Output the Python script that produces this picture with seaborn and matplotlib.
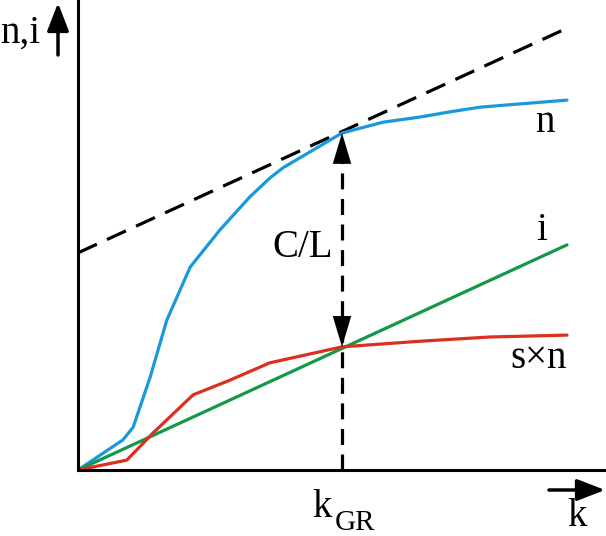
import numpy as np
import pandas as pd
import matplotlib
matplotlib.use("Agg")
import matplotlib.pyplot as plt
import seaborn as sns

# curves (k on x, n / i / s*n on y)
k_n = [0, 0.92, 1.13, 1.48, 1.82, 2.30, 2.91, 3.52, 3.93, 4.20, 5.41, 6.25, 7.01, 7.62, 8.24, 10.02]
n_vals = [0, 0.64, 0.91, 1.98, 3.19, 4.32, 5.11, 5.81, 6.21, 6.43, 7.17, 7.40, 7.51, 7.62, 7.72, 7.87]

k_sn = [0, 1.0, 1.54, 2.36, 3.11, 3.93, 5.41, 7.01, 8.44, 10.02]
sn_vals = [0, 0.21, 0.79, 1.60, 1.91, 2.28, 2.62, 2.74, 2.83, 2.87]

k_i = [0, 10.02]
i_vals = [0, 4.79]

k_tan = [0, 10.02]
tan_vals = [4.62, 9.40]

k_gr = 5.41
n_gr = 7.17
sn_gr = 2.62

blue = "#1a98dc"
green = "#13984a"
red = "#dc2f1e"

sns.set_style("white")
plt.rcParams["font.family"] = ["Liberation Serif", "DejaVu Serif"]
plt.rcParams["text.color"] = "black"

fig = plt.figure(figsize=(6.06, 5.36), dpi=100)
ax = fig.add_axes([78 / 606, 66 / 536, 528 / 606, 470 / 536])

sns.lineplot(x=k_tan, y=tan_vals, ax=ax, color="black", lw=2.3)
ax.lines[-1].set_dashes([6.5, 3.5])
sns.lineplot(x=k_n, y=n_vals, ax=ax, color=blue, lw=2.3)
sns.lineplot(x=k_i, y=i_vals, ax=ax, color=green, lw=2.3)
sns.lineplot(x=k_sn, y=sn_vals, ax=ax, color=red, lw=2.3)

# vertical dashed line at k_GR with arrowheads at both ends
ax.plot([k_gr, k_gr], [0, n_gr - 0.3], color="black", lw=2.3, dashes=[5, 3])
head = "-|>,head_length=1.1,head_width=0.33"
ax.annotate("", xy=(k_gr, n_gr), xytext=(k_gr, n_gr - 0.7),
            arrowprops=dict(arrowstyle=head, color="black", lw=0.1,
                            mutation_scale=20, shrinkA=0, shrinkB=0))
ax.annotate("", xy=(k_gr, sn_gr), xytext=(k_gr, sn_gr + 0.7),
            arrowprops=dict(arrowstyle=head, color="black", lw=0.1,
                            mutation_scale=20, shrinkA=0, shrinkB=0))

ax.set_xlim(0, 528 / 48.8)
ax.set_ylim(0, 10)
ax.set_xticks([])
ax.set_yticks([])
sns.despine(ax=ax, top=True, right=True)
for side in ["left", "bottom"]:
    ax.spines[side].set_linewidth(2.2)
    ax.spines[side].set_color("black")

# curve labels
ax.text(9.37, 7.40, "n", fontsize=28, va="center", ha="left")
ax.text(9.39, 4.89, "i", fontsize=28, va="baseline", ha="left")
ax.text(8.85, 2.17, "s\u00d7n", fontsize=28, va="baseline", ha="left")
ax.text(3.99, 4.53, "C/L", fontsize=28, va="baseline", ha="left")

# k_GR below the axis
ax.annotate("k", xy=(k_gr, 0), xytext=(-21.6, -33.8), textcoords="offset points",
            fontsize=28, va="baseline", ha="left", annotation_clip=False)
ax.annotate("GR", xy=(k_gr, 0), xytext=(-5, -43), textcoords="offset points",
            fontsize=21, va="baseline", ha="left", annotation_clip=False)

# axis names with arrows
axis_head = "-|>,head_length=0.85,head_width=0.33"
fig.text(0 / 606, 1 - 43 / 536, "n,i", fontsize=28, va="baseline", ha="left")
fig.patches.append(matplotlib.patches.FancyArrowPatch(
    (58 / 606, 1 - 55 / 536), (58 / 606, 1 - 3 / 536), transform=fig.transFigure,
    arrowstyle=axis_head, mutation_scale=20, color="black", lw=2.5, shrinkA=0, shrinkB=0))
fig.text(567 / 606, 10 / 536, "k", fontsize=28, va="baseline", ha="left")
fig.patches.append(matplotlib.patches.FancyArrowPatch(
    (549 / 606, 46 / 536), (605 / 606, 46 / 536), transform=fig.transFigure,
    arrowstyle=axis_head, mutation_scale=20, color="black", lw=2.5, shrinkA=0, shrinkB=0))

fig.savefig("out.png", dpi=100)
